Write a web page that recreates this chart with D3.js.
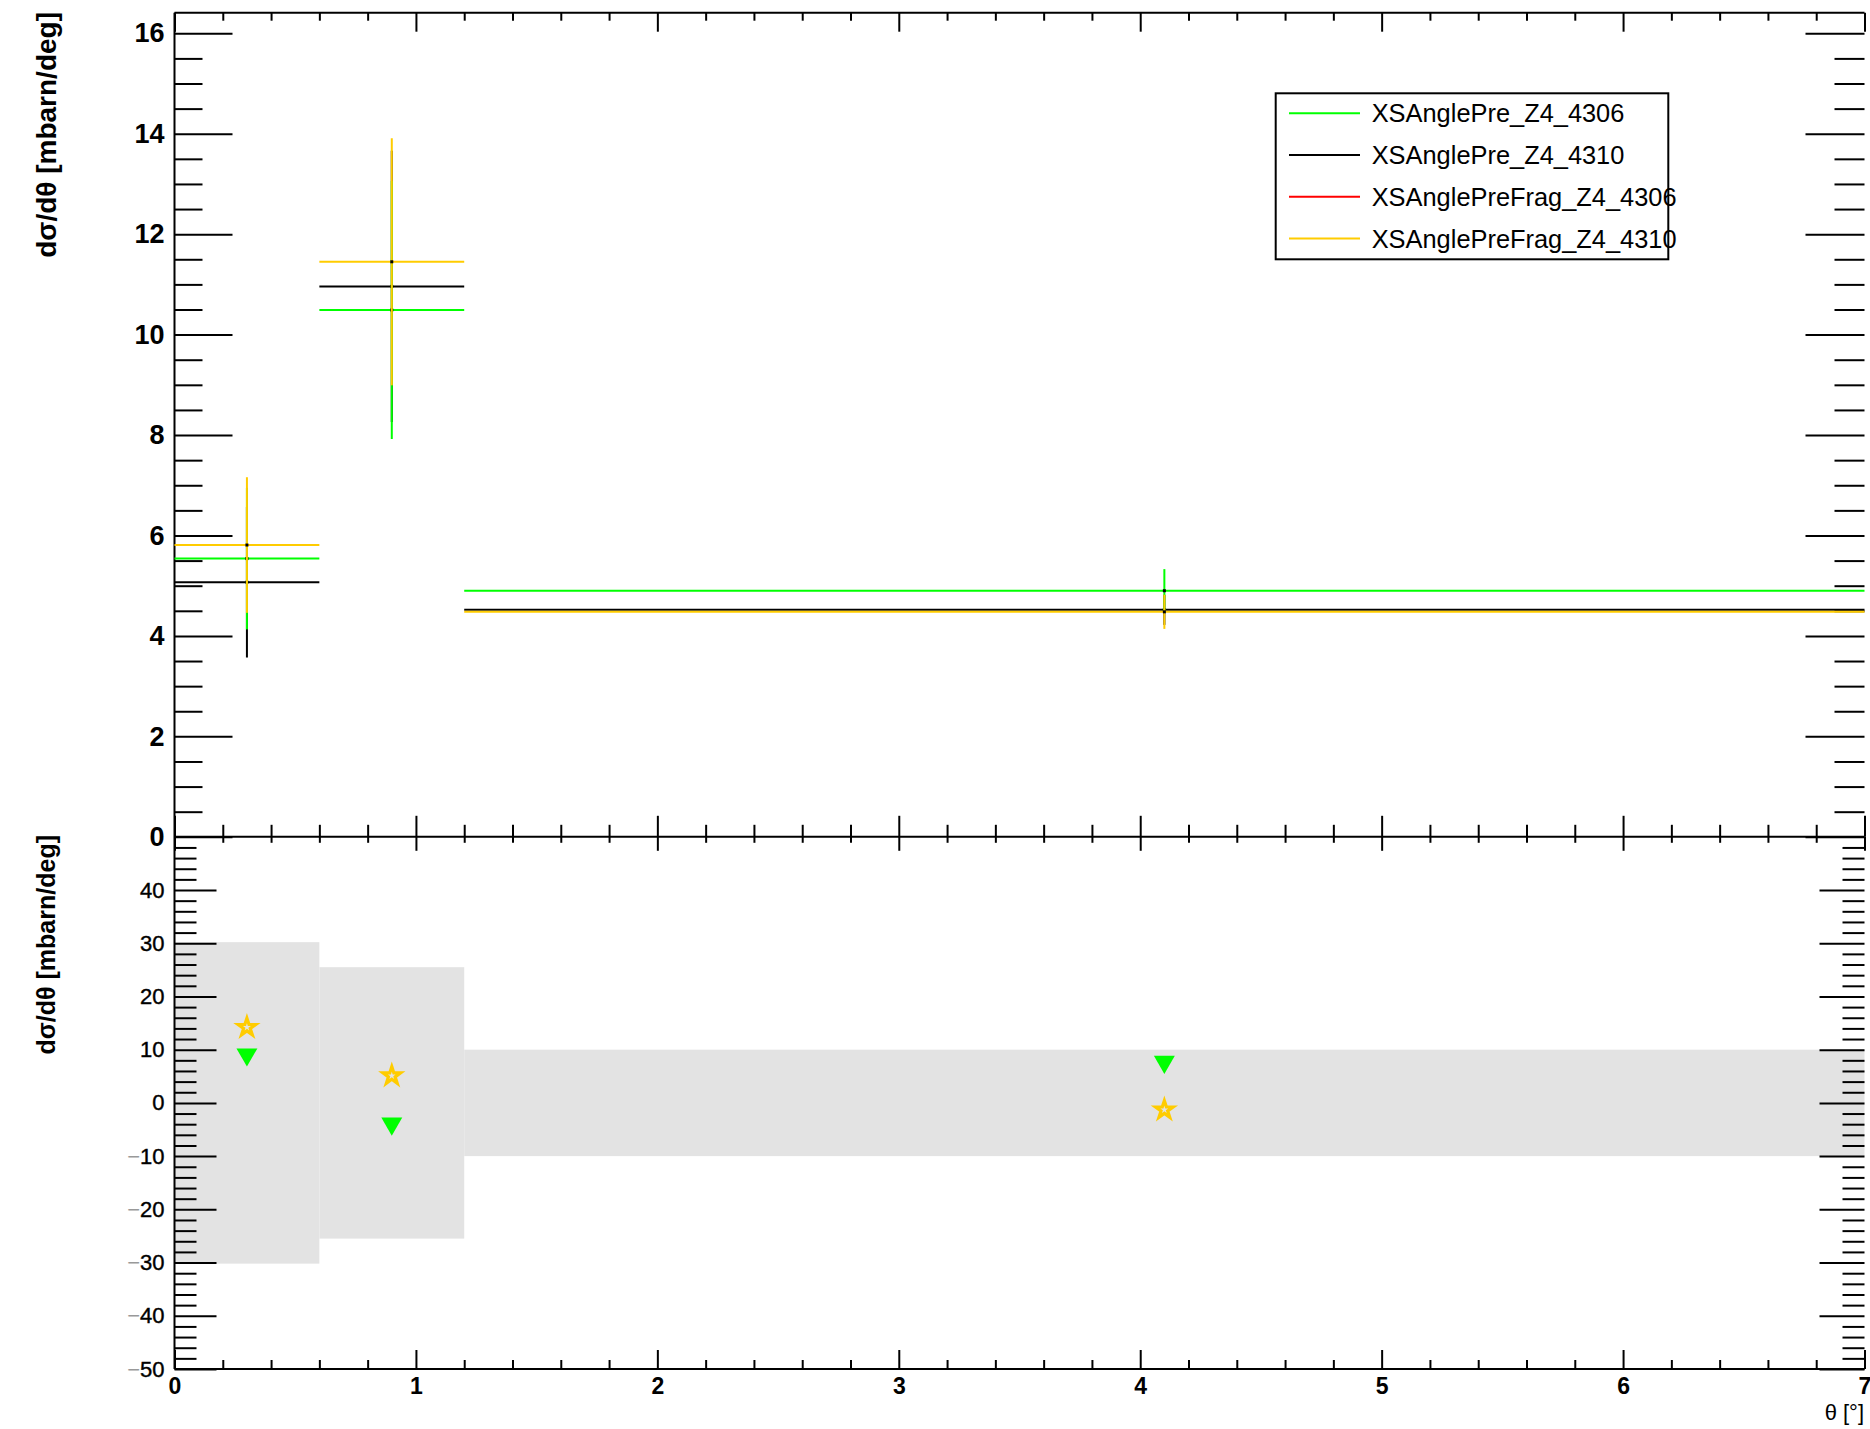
<!DOCTYPE html>
<meta charset="utf-8">
<script src="https://d3js.org/d3.v7.min.js"></script>
<style>
  body { margin: 0; background: #fff; }
  text { font-family: "Liberation Sans", Arial, sans-serif; }
</style>
<div id="chart"></div>
<script>

// theta bins [deg]
var binLo  = [0, 0.6, 1.2];
var binHi  = [0.6, 1.2, 7.0];
var binMid = [0.3, 0.9, 4.1];

// dsigma/dtheta [mbarn/deg]
var pre4306     = [5.54, 10.49, 4.90];
var pre4306Err  = [1.41, 2.57, 0.43];
var pre4310     = [5.07, 10.96, 4.52];
var pre4310Err  = [1.50, 2.70, 0.30];
var frag4306    = [];   // in the legend but nothing of it shows on the plot
var frag4306Err = [];
var frag4310    = [5.81, 11.45, 4.48];
var frag4310Err = [1.35, 2.46, 0.34];

// lower pad: differences and the grey band
var diffPre  = [9.1, -3.9, 7.7];
var diffFrag = [14.2, 5.1, -1.3];
var bandHalf = [30.2, 25.5, 10.0];

var legendNames = ["XSAnglePre_Z4_4306", "XSAnglePre_Z4_4310", "XSAnglePreFrag_Z4_4306", "XSAnglePreFrag_Z4_4310"];
var legendColors = ["#00ff00", "#000000", "#ff0000", "#ffcc00"];

var xMajor = [0, 1, 2, 3, 4, 5, 6, 7];
var yTopMajor = [0, 2, 4, 6, 8, 10, 12, 14, 16];
var yBotMajor = [-50, -40, -30, -20, -10, 0, 10, 20, 30, 40];

// pad geometry
var L = 174.5, R = 1864.5;
var topY0 = 12.7, midY = 836.8, botY = 1369;

var svg = d3.select("#chart").append("svg")
    .attr("width", 1870)
    .attr("height", 1429);

var x = d3.scaleLinear().domain([0, 7]).range([L, R]);
var yTop = d3.scaleLinear().domain([0, 16.41]).range([midY, topY0]);
var yBot = d3.scaleLinear().domain([-50, 50]).range([botY, midY]);

var xMinor = d3.range(0, 7.01, 0.2).filter(v => Math.abs(v - Math.round(v)) > 0.01);
var yTopMinor = d3.range(0, 16.41, 0.5).filter(v => v % 2 != 0);
var yBotMinor = d3.range(-50, 50.1, 2).filter(v => v % 10 != 0);

// little helper, ticks pointing into the pad
function tickAxis(gen, scale, vals, len, tx, ty) {
  var g = svg.append("g")
    .attr("transform", `translate(${tx}, ${ty})`)
    .call(gen(scale).tickValues(vals).tickSize(-len).tickFormat(""));
  g.select(".domain").remove();
  g.selectAll("line").attr("stroke", "#000").attr("stroke-width", 2);
  return g;
}

// ---------- top pad ----------
tickAxis(d3.axisLeft, yTop, yTopMajor, 58, L, 0);
tickAxis(d3.axisLeft, yTop, yTopMinor, 28, L, 0);
tickAxis(d3.axisRight, yTop, yTopMajor, 59, R, 0);
tickAxis(d3.axisRight, yTop, yTopMinor, 30, R, 0);
tickAxis(d3.axisTop, x, xMajor, 19, 0, topY0);
tickAxis(d3.axisTop, x, xMinor, 8, 0, topY0);
tickAxis(d3.axisBottom, x, xMajor, 21, 0, midY);
tickAxis(d3.axisBottom, x, xMinor, 12, 0, midY);

// top y labels
var topLab = svg.append("g")
  .attr("transform", `translate(${L}, 0)`)
  .call(d3.axisLeft(yTop).tickValues(yTopMajor).tickSize(0).tickPadding(10).tickFormat(d3.format("d")));
topLab.select(".domain").remove();
topLab.selectAll("text")
  .style("font-family", "Liberation Sans, Arial, sans-serif")
  .style("font-size", "27px").style("font-weight", "bold").attr("fill", "#000");

// ---------- bottom pad ----------
// grey band first so the ticks sit on top
svg.append("g").selectAll("rect")
  .data(bandHalf)
  .join("rect")
    .attr("x", (d, i) => x(binLo[i]))
    .attr("width", (d, i) => x(binHi[i]) - x(binLo[i]))
    .attr("y", d => yBot(d))
    .attr("height", d => yBot(-d) - yBot(d))
    .attr("fill", "#e3e3e3");

tickAxis(d3.axisLeft, yBot, yBotMajor, 42, L, 0);
tickAxis(d3.axisLeft, yBot, yBotMinor, 22, L, 0);
tickAxis(d3.axisRight, yBot, yBotMajor, 45, R, 0);
tickAxis(d3.axisRight, yBot, yBotMinor, 22, R, 0);
tickAxis(d3.axisTop, x, xMajor, 14, 0, midY);
tickAxis(d3.axisTop, x, xMinor, 6, 0, midY);
tickAxis(d3.axisBottom, x, xMajor, 19, 0, botY);
tickAxis(d3.axisBottom, x, xMinor, 9, 0, botY);

var botLab = svg.append("g")
  .attr("transform", `translate(${L}, 0)`)
  .call(d3.axisLeft(yBot).tickValues(yBotMajor).tickSize(0).tickPadding(10).tickFormat(d3.format("d")));
botLab.select(".domain").remove();
botLab.selectAll("text")
  .style("font-family", "Liberation Sans, Arial, sans-serif")
  .style("font-size", "22px").attr("fill", "#000")
  .attr("stroke", "#000").attr("stroke-width", 0.4)
  .each(function() {
    // the minus comes out lighter in the original
    var t = d3.select(this), s = t.text();
    if (s[0] == "−") {
      t.text("");
      t.append("tspan").attr("fill", "#999").attr("stroke", "none").text("−");
      t.append("tspan").text(s.slice(1));
    }
  });

var xLab = svg.append("g")
  .attr("transform", `translate(0, ${botY})`)
  .call(d3.axisBottom(x).tickValues(xMajor).tickSize(0).tickPadding(9).tickFormat(d3.format("d")));
xLab.select(".domain").remove();
xLab.selectAll("text")
  .style("font-family", "Liberation Sans, Arial, sans-serif")
  .style("font-size", "23px").style("font-weight", "bold").attr("fill", "#000");

// frame lines
[[L, topY0, R, topY0], [L, midY, R, midY], [L, botY, R, botY], [L, topY0, L, botY]].forEach(function(p) {
  svg.append("line").attr("x1", p[0]).attr("y1", p[1]).attr("x2", p[2]).attr("y2", p[3])
    .attr("stroke", "#000").attr("stroke-width", 2);
});

// ---------- histograms with errors ----------
var series = [
  {vals: pre4310, errs: pre4310Err, color: "#000000"},
  {vals: pre4306, errs: pre4306Err, color: "#00ff00"},
  {vals: frag4306, errs: frag4306Err, color: "#ff0000"},
  {vals: frag4310, errs: frag4310Err, color: "#ffcc00"}
];

series.forEach(function(s) {
  var g = svg.append("g");
  var pts = s.vals.map((v, i) => ({v: v, e: s.errs[i], i: i}));
  g.selectAll(".h").data(pts).join("line")
    .attr("x1", d => x(binLo[d.i])).attr("x2", d => x(binHi[d.i]))
    .attr("y1", d => yTop(d.v)).attr("y2", d => yTop(d.v))
    .attr("stroke", s.color).attr("stroke-width", 2);
  g.selectAll(".v").data(pts).join("line")
    .attr("x1", d => x(binMid[d.i])).attr("x2", d => x(binMid[d.i]))
    .attr("y1", d => yTop(d.v - d.e)).attr("y2", d => yTop(d.v + d.e))
    .attr("stroke", s.color).attr("stroke-width", 2);
  g.selectAll("rect").data(pts).join("rect")
    .attr("x", d => x(binMid[d.i]) - 1.5).attr("y", d => yTop(d.v) - 1.5)
    .attr("width", 3).attr("height", 3).attr("fill", "#000");
});

// ---------- lower pad markers ----------
svg.append("g").selectAll("path")
  .data(diffPre)
  .join("path")
    .attr("d", d3.symbol(d3.symbolTriangle, 190))
    .attr("transform", (d, i) => `translate(${x(binMid[i])}, ${yBot(d)}) rotate(180)`)
    .attr("fill", "#00ff00");

svg.append("g").selectAll("path")
  .data(diffFrag)
  .join("path")
    .attr("d", d3.symbol(d3.symbolStar, 95))
    .attr("transform", (d, i) => `translate(${x(binMid[i])}, ${yBot(d)})`)
    .attr("fill", "none")
    .attr("stroke", "#ffcc00")
    .attr("stroke-width", 3.2);

// ---------- legend ----------
svg.append("rect")
  .attr("x", 1275.7).attr("y", 93.3).attr("width", 392.6).attr("height", 166)
  .attr("fill", "#fff").attr("stroke", "#000").attr("stroke-width", 2);

legendNames.forEach(function(name, i) {
  var ly = 113.3 + i * 41.7;
  svg.append("line").attr("x1", 1289).attr("x2", 1360).attr("y1", ly).attr("y2", ly)
    .attr("stroke", legendColors[i]).attr("stroke-width", 2);
  svg.append("text").attr("x", 1371.7).attr("y", ly).attr("dy", "0.36em")
    .text(name).style("font-size", "25.4px");
});

// ---------- axis titles ----------
svg.append("text")
  .attr("transform", "translate(56, 12) rotate(-90)")
  .attr("text-anchor", "end")
  .style("font-size", "28px").style("font-weight", "bold")
  .text("dσ/dθ [mbarn/deg]");

svg.append("text")
  .attr("transform", "translate(55, 835) rotate(-90)")
  .attr("text-anchor", "end")
  .style("font-size", "25px").style("font-weight", "bold")
  .text("dσ/dθ [mbarn/deg]");

svg.append("text")
  .attr("x", 1864).attr("y", 1420)
  .attr("text-anchor", "end")
  .style("font-size", "22px")
  .text("θ [°]");

</script>
